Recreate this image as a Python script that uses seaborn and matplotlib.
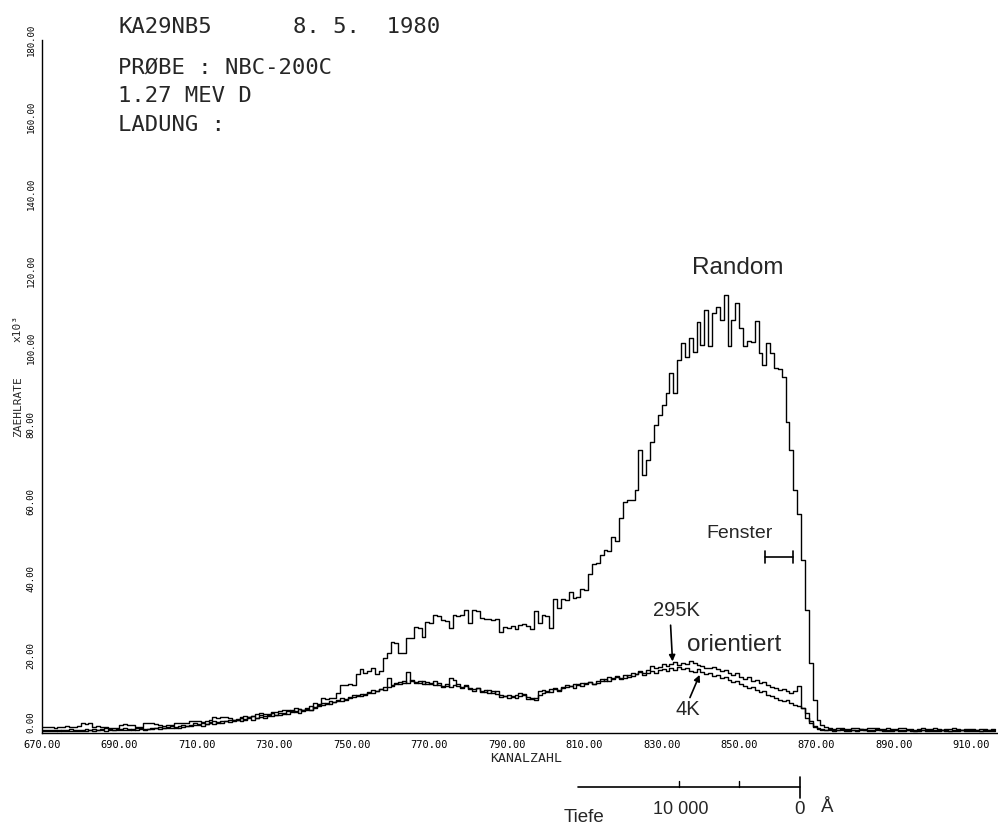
import numpy as np
import pandas as pd
import matplotlib
matplotlib.use("Agg")
import matplotlib.pyplot as plt
import matplotlib.transforms as mtransforms
from matplotlib.lines import Line2D
import seaborn as sns

# ---------------- data ----------------
first_channel = 670
random_counts = [
    1.5, 1.6, 1.5, 1.4, 1.6, 1.5, 1.7, 1.5, 1.6, 1.8,
    2.5, 2.4, 2.5, 1.6, 1.7, 1.5, 1.6, 1.3, 1.4, 1.3,
    2.2, 2.3, 2.2, 2.1, 1.6, 1.5, 2.5, 2.6, 2.5, 2.4,
    2.0, 1.9, 2.1, 2.0, 2.6, 2.7, 2.5, 2.6, 3.0, 3.1,
    3.0, 2.9, 3.1, 3.4, 4.1, 4.0, 4.2, 4.1, 4.0, 3.4,
    3.5, 4.2, 4.3, 4.1, 4.3, 5.0, 5.1, 4.9, 5.0, 5.5,
    5.4, 5.6, 5.9, 6.0, 5.8, 6.4, 6.3, 6.0, 6.1, 6.0,
    7.7, 7.6, 9.0, 8.9, 9.1, 9.0, 10.3, 12.5, 12.4, 12.6,
    12.5, 15.2, 16.5, 15.6, 16.2, 16.8, 15.4, 16.0, 19.4, 20.7,
    23.7, 23.5, 20.7, 20.9, 24.6, 24.8, 27.6, 27.4, 25.0, 28.9,
    28.7, 30.6, 30.4, 29.3, 29.1, 27.2, 30.6, 30.4, 30.7, 31.9,
    28.5, 31.9, 31.7, 29.8, 29.5, 29.7, 29.3, 29.5, 26.3, 27.6,
    27.4, 27.7, 26.9, 28.0, 28.2, 27.9, 26.9, 31.7, 28.6, 30.6,
    30.4, 27.2, 34.7, 32.4, 34.7, 34.5, 36.7, 35.0, 35.2, 37.3,
    37.1, 41.3, 44.0, 44.2, 46.2, 47.5, 47.3, 51.0, 50.0, 55.8,
    60.0, 60.5, 60.4, 63.1, 73.5, 67.0, 71.0, 75.7, 80.0, 82.6,
    85.2, 88.2, 93.4, 88.2, 96.9, 101.2, 97.7, 102.5, 99.0, 106.8,
    100.8, 109.9, 100.4, 109.0, 110.6, 107.3, 113.8, 100.4, 107.3, 111.6,
    105.1, 100.4, 101.9, 101.6, 107.1, 98.8, 95.6, 101.2, 98.8, 94.7,
    94.5, 92.5, 80.9, 73.5, 63.0, 57.0, 45.0, 32.0, 18.2, 8.6,
    3.4, 2.0, 1.5, 1.2, 1.1, 1.3, 1.2, 1.0, 1.1, 1.2,
    1.3, 1.1, 1.0, 1.2, 1.4, 1.2, 1.1, 1.0, 1.2, 1.1,
    1.0, 1.2, 1.3, 1.1, 1.0, 0.9, 1.1, 1.2, 1.0, 1.1,
    1.2, 1.0, 0.9, 1.1, 1.0, 1.2, 1.1, 0.9, 1.0, 1.1,
    1.0, 0.9, 1.1, 1.0, 0.9, 1.0, 1.0,
]
orient_295k = [
    0.8, 0.7, 0.9, 0.8, 0.6, 0.7, 0.9, 1.0, 0.8, 0.7,
    0.9, 1.0, 0.8, 1.1, 0.9, 1.0, 1.2, 1.0, 0.9, 1.1,
    1.0, 1.2, 1.1, 0.9, 1.3, 1.2, 1.0, 1.1, 1.4, 1.2,
    1.5, 1.3, 1.6, 1.7, 1.4, 1.8, 2.1, 1.9, 2.2, 2.5,
    2.3, 2.6, 2.4, 2.8, 3.1, 2.7, 3.2, 3.0, 3.4, 3.3,
    3.6, 3.9, 3.5, 4.1, 4.4, 4.0, 4.6, 4.3, 4.8, 5.1,
    4.7, 5.3, 5.0, 5.6, 5.9, 5.4, 6.2, 5.8, 6.5, 6.9,
    6.6, 7.3, 7.8, 7.5, 8.2, 8.0, 8.6, 9.0, 8.7, 9.4,
    9.8, 9.5, 10.2, 10.0, 10.6, 11.2, 10.8, 11.5, 12.0, 14.2,
    12.5, 12.8, 13.3, 12.9, 15.9, 13.4, 13.0, 13.6, 12.7, 13.2,
    12.6, 13.5, 12.4, 11.9, 12.3, 14.2, 13.8, 12.1, 11.8, 12.4,
    11.5, 11.0, 11.8, 10.6, 11.2, 10.5, 10.9, 10.2, 9.3, 9.6,
    9.2, 9.5, 10.0, 10.4, 9.8, 8.8, 9.1, 8.6, 10.8, 11.2,
    10.6, 11.5, 11.8, 11.2, 12.0, 12.5, 12.1, 12.8, 12.4, 13.0,
    12.6, 13.2, 12.8, 13.5, 14.1, 13.6, 14.5, 14.0, 14.8, 14.3,
    15.0, 14.6, 15.5, 15.2, 16.0, 15.6, 16.4, 17.5, 16.8, 17.2,
    17.8, 17.4, 18.0, 18.4, 17.6, 18.2, 17.9, 18.6, 18.3, 17.7,
    17.5, 17.0, 16.8, 17.2, 16.5, 16.0, 16.4, 15.6, 15.1, 15.5,
    14.6, 14.0, 14.5, 13.5, 13.8, 12.9, 13.2, 12.5, 12.0, 11.6,
    11.2, 11.5, 10.8, 10.5, 11.0, 12.2, 6.5, 4.0, 2.5, 1.6,
    1.2, 1.0, 0.9, 1.0, 0.8, 0.9, 1.0, 0.8, 0.7, 0.9,
    0.8, 1.0, 0.9, 0.7, 0.8, 1.0, 0.9, 0.8, 0.7, 0.8,
    0.9, 0.8, 0.7, 0.9, 0.8, 0.6, 0.8, 0.9, 0.7, 0.8,
    0.7, 0.8, 0.9, 0.7, 0.6, 0.8, 0.7, 0.9, 0.8, 0.7,
    0.8, 0.7, 0.6, 0.8, 0.7, 0.8, 0.7,
]
orient_4k = [
    0.5, 0.6, 0.4, 0.5, 0.7, 0.5, 0.4, 0.6, 0.5, 0.6,
    0.6, 0.5, 0.7, 0.6, 0.8, 0.7, 0.6, 0.8, 0.7, 0.9,
    0.8, 0.7, 0.9, 1.0, 0.8, 1.0, 0.9, 1.1, 1.0, 1.2,
    1.1, 1.3, 1.2, 1.4, 1.5, 1.3, 1.6, 1.8, 1.7, 2.0,
    2.1, 1.9, 2.3, 2.5, 2.4, 2.8, 2.6, 3.0, 2.9, 3.2,
    3.4, 3.1, 3.6, 3.8, 3.5, 4.0, 4.2, 3.9, 4.5, 4.3,
    4.8, 4.6, 5.1, 4.9, 5.4, 5.7, 5.3, 6.0, 6.3, 6.1,
    6.8, 7.0, 7.4, 7.7, 7.5, 8.1, 8.4, 8.2, 8.9, 9.1,
    9.4, 9.8, 9.6, 10.2, 10.5, 10.3, 11.0, 11.4, 11.1, 12.0,
    12.3, 13.0, 12.6, 13.4, 13.1, 13.8, 13.3, 12.9, 13.5, 12.8,
    13.0, 12.5, 12.9, 12.2, 12.6, 12.0, 12.4, 12.7, 11.9, 12.2,
    11.8, 11.3, 11.6, 10.9, 10.7, 11.1, 10.4, 10.8, 10.0, 9.5,
    9.8, 9.4, 9.0, 9.6, 10.1, 9.3, 8.9, 9.2, 10.0, 10.5,
    10.9, 10.7, 11.3, 11.0, 11.6, 11.9, 12.3, 11.8, 12.6, 12.2,
    12.9, 13.3, 12.7, 13.0, 13.6, 14.0, 13.5, 14.2, 14.6, 14.0,
    14.4, 15.0, 14.7, 15.3, 15.8, 15.1, 15.6, 16.0, 15.5, 16.3,
    16.7, 16.1, 16.9, 16.4, 17.2, 16.6, 16.9, 16.2, 15.8, 16.5,
    15.9, 15.2, 15.6, 14.8, 15.1, 14.3, 14.6, 13.8, 13.2, 13.6,
    12.7, 12.3, 11.8, 12.0, 11.1, 10.6, 10.9, 10.0, 9.6, 9.0,
    8.6, 8.2, 8.5, 7.8, 7.3, 7.0, 6.4, 5.2, 3.0, 1.8,
    1.1, 0.9, 0.7, 0.8, 0.6, 0.7, 0.8, 0.6, 0.5, 0.7,
    0.6, 0.8, 0.7, 0.5, 0.6, 0.8, 0.7, 0.6, 0.5, 0.6,
    0.7, 0.6, 0.5, 0.7, 0.6, 0.5, 0.6, 0.7, 0.5, 0.6,
    0.5, 0.6, 0.7, 0.5, 0.4, 0.6, 0.5, 0.7, 0.6, 0.5,
    0.6, 0.5, 0.4, 0.6, 0.5, 0.6, 0.5,
]
series_names = ["Random", "295K", "4K"]

x_ticks = [670, 690, 710, 730, 750, 770, 790, 810, 830, 850, 870, 890, 910]
x_tick_labels = [f"{t:.2f}" for t in x_ticks]
y_ticks = [0, 20, 40, 60, 80, 100, 120, 140, 160, 180]
y_tick_labels = [f"{t:.2f}" for t in y_ticks]

header_lines = ["KA29NB5", "PRØBE : NBC-200C", "1.27 MEV D", "LADUNG :"]
header_date = "8. 5.  1980"

fenster_range = [856.6, 863.8]
depth_ticks = [834.4, 849.9]
depth_range = [808.3, 865.6]

# ---------------- build long table ----------------
frames = []
for name, vals in zip(series_names, [random_counts, orient_295k, orient_4k]):
    ch = np.arange(first_channel, first_channel + len(vals))
    frames.append(pd.DataFrame({"channel": ch, "counts": vals, "series": name}))
df = pd.concat(frames, ignore_index=True)

# ---------------- figure ----------------
W, H = 998, 831
sns.set_style("white")
plt.rcParams["font.family"] = ["DejaVu Sans Mono", "DejaVu Sans"]
fig = plt.figure(figsize=(W / 100, H / 100), dpi=100)

def fx(px):
    return px / W

def fy(py):
    return 1 - py / H

ax = fig.add_axes([fx(42), fy(733), fx(998 - 42) - 0.0005, (733 - 40) / H])

sns.lineplot(data=df, x="channel", y="counts", hue="series", units="series",
             estimator=None, palette=["black"] * 3, legend=False,
             drawstyle="steps-post", linewidth=1.0, ax=ax)

ax.set_xlim(670, 670 + (998 - 42) / 3.875)
ax.set_ylim(0, 180)
sns.despine(ax=ax, top=True, right=True)
for s in ("left", "bottom"):
    ax.spines[s].set_color("black")
    ax.spines[s].set_linewidth(1.0)

ax.set_xticks(x_ticks)
ax.set_xticklabels(x_tick_labels, fontsize=7.5)
ax.set_yticks(y_ticks)
ax.set_yticklabels(y_tick_labels, fontsize=6.5, rotation=90, va="center")
# the zero label sits above the corner so it does not collide with the first x label
ax.get_yticklabels()[0].set_va("bottom")
ax.tick_params(axis="x", direction="out", length=2.5, width=0.9, pad=2.5, colors="black")
ax.tick_params(axis="y", direction="out", length=3, width=0.9, pad=1.5, colors="black")
ax.set_xlabel("")
ax.set_ylabel("")

# axis titles
fig.text(fx(490), fy(759), "KANALZAHL", fontsize=9.5, ha="left", va="center")
fig.text(fx(18), fy(407), "ZAEHLRATE", fontsize=8, rotation=90, ha="center", va="center")
fig.text(fx(18), fy(329), "x10³", fontsize=8, rotation=90, ha="center", va="center")

# header block
hy = [27, 68, 96, 125]
for line, y in zip(header_lines, hy):
    fig.text(fx(118), fy(y), line, fontsize=16, ha="left", va="center")
fig.text(fx(293), fy(27), header_date, fontsize=16, ha="left", va="center")

# annotations
afont = ["Liberation Sans", "DejaVu Sans"]
ax.text(849.6, 120.8, "Random", fontsize=17.5, family=afont, ha="center", va="center")
ax.text(850.1, 51.7, "Fenster", fontsize=14, family=afont, ha="center", va="center")
ax.plot(fenster_range, [45.7, 45.7], color="black", lw=1.2)
for xe in fenster_range:
    ax.plot([xe, xe], [44.2, 47.2], color="black", lw=1.2)
ax.text(833.9, 31.9, "295K", fontsize=14.5, family=afont, ha="center", va="center")
ax.annotate("", xy=(832.8, 18.6), xytext=(832.3, 28.0),
            arrowprops=dict(arrowstyle="-|>", color="black", lw=1.2,
                            mutation_scale=9, shrinkA=0, shrinkB=0))
ax.text(848.8, 22.9, "orientiert", fontsize=17.5, family=afont, ha="center", va="center")
ax.text(836.7, 6.0, "4K", fontsize=14.5, family=afont, ha="center", va="center")
ax.annotate("", xy=(839.8, 15.1), xytext=(837.3, 9.2),
            arrowprops=dict(arrowstyle="-|>", color="black", lw=1.2,
                            mutation_scale=9, shrinkA=0, shrinkB=0))

# depth scale below the axis (x in channel units, y in figure units)
bt = mtransforms.blended_transform_factory(ax.transData, fig.transFigure)
fig.add_artist(Line2D(depth_range, [fy(787), fy(787)], transform=bt, color="black", lw=1.2))
for xt in depth_ticks:
    fig.add_artist(Line2D([xt, xt], [fy(787), fy(781)], transform=bt, color="black", lw=1.0))
fig.add_artist(Line2D([depth_range[1]] * 2, [fy(777), fy(798)], transform=bt, color="black", lw=1.2))
fig.text(809.9, fy(817), "Tiefe", transform=bt, fontsize=13.5, family=afont, ha="center", va="center")
fig.text(834.9, fy(810), "10 000", transform=bt, fontsize=13, family=afont, ha="center", va="center")
fig.text(865.6, fy(810), "0", transform=bt, fontsize=13.5, family=afont, ha="center", va="center")
fig.text(872.8, fy(808), "Å", transform=bt, fontsize=13.5, family=afont, ha="center", va="center")

fig.savefig("out.png", dpi=100, facecolor="white")
